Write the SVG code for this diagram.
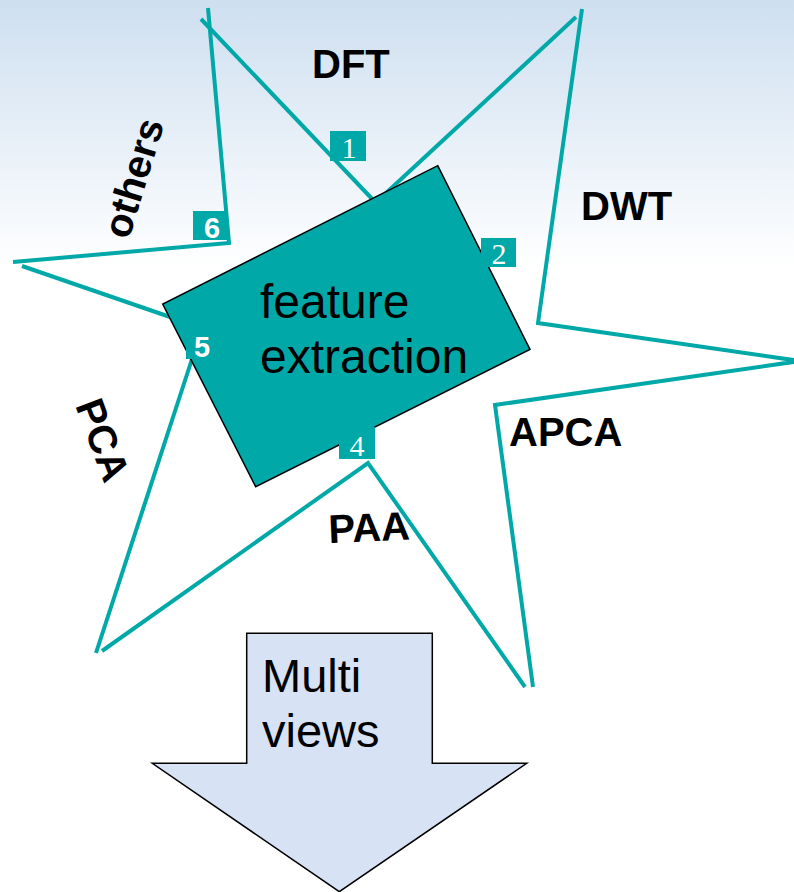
<svg xmlns="http://www.w3.org/2000/svg" width="794" height="892" viewBox="0 0 794 892">
  <defs>
    <linearGradient id="bg" x1="0" y1="0" x2="0" y2="1">
      <stop offset="0" stop-color="#CEDFF0"/>
      <stop offset="1" stop-color="#FFFFFF"/>
    </linearGradient>
    <style>
      .edge { fill: none; stroke: #00A8A8; stroke-width: 4; stroke-linejoin: miter; stroke-linecap: butt; }
      .lbl { font-family: "Liberation Sans", Arial, sans-serif; font-weight: bold; font-size: 40px; fill: #000; }
      .box { fill: #00A8A8; }
      .nserif { font-family: "Liberation Serif", "Times New Roman", serif; font-size: 30px; fill: #fff; text-anchor: middle; }
      .nsans { font-family: "Liberation Sans", Arial, sans-serif; font-weight: bold; font-size: 29px; fill: #fff; text-anchor: middle; }
      .big { font-family: "Liberation Sans", Arial, sans-serif; font-size: 48px; fill: #000; }
    </style>
  </defs>
  <rect x="0" y="0" width="794" height="270" fill="url(#bg)"/>
  <rect x="0" y="270" width="794" height="622" fill="#FFFFFF"/>

  <g id="connectors">
    <polyline class="edge" points="208,8 229,243 13,262"/>
    <line class="edge" x1="201" y1="19" x2="376" y2="203"/>
    <line class="edge" x1="576" y1="17" x2="385" y2="194"/>
    <polyline class="edge" points="582,9 538,323 800,361 495,405 533,687"/>
    <line class="edge" x1="22" y1="266" x2="173" y2="318"/>
    <line class="edge" x1="193" y1="356" x2="96" y2="653"/>
    <polyline class="edge" points="102,651 368,463 525,687"/>
  </g>

  <g id="feature-extraction">
    <polygon points="437.7,165.7 530,349.3 255.7,486.7 162.7,304" fill="#00A8A8" stroke="#000" stroke-width="1.5"/>
    <text class="big" x="260" y="318">feature</text>
    <text class="big" x="260" y="373">extraction</text>
  </g>

  <g id="badge-1">
    <rect class="box" x="330" y="131" width="36" height="30"/>
    <text class="nserif" x="349" y="158">1</text>
  </g>
  <g id="badge-2">
    <rect class="box" x="481" y="238" width="35" height="29"/>
    <text class="nserif" x="499" y="264">2</text>
  </g>
  <g id="badge-4">
    <rect class="box" x="339" y="427" width="36" height="32"/>
    <text class="nserif" x="357" y="456">4</text>
  </g>
  <g id="badge-5">
    <rect class="box" x="186" y="334" width="26" height="25"/>
    <text class="nsans" x="202" y="357">5</text>
  </g>
  <g id="badge-6">
    <rect class="box" x="193" y="211" width="35" height="29"/>
    <text class="nsans" x="212" y="238">6</text>
  </g>

  <g id="label-dft"><text class="lbl" x="312" y="78">DFT</text></g>
  <g id="label-dwt"><text class="lbl" x="581" y="220">DWT</text></g>
  <g id="label-apca"><text class="lbl" x="509" y="446">APCA</text></g>
  <g id="label-paa"><text class="lbl" x="329" y="543" transform="rotate(-2.5 329 543)">PAA</text></g>
  <g id="label-pca"><text class="lbl" text-anchor="middle" transform="translate(103 440) rotate(69.5)" x="0" y="14">PCA</text></g>
  <g id="label-others"><text class="lbl" text-anchor="middle" transform="translate(137 179) rotate(-73)" x="0" y="10">others</text></g>

  <g id="multi-views">
    <polygon points="246.7,633.3 432.3,633.3 432.3,763.3 526.7,763.3 339.3,891.7 152.3,763.3 246.7,763.3" fill="#D7E2F4" stroke="#000" stroke-width="1.5"/>
    <text class="big" x="262" y="692" style="font-size:47px">Multi</text>
    <text class="big" x="262" y="747" style="font-size:47px">views</text>
  </g>
</svg>
